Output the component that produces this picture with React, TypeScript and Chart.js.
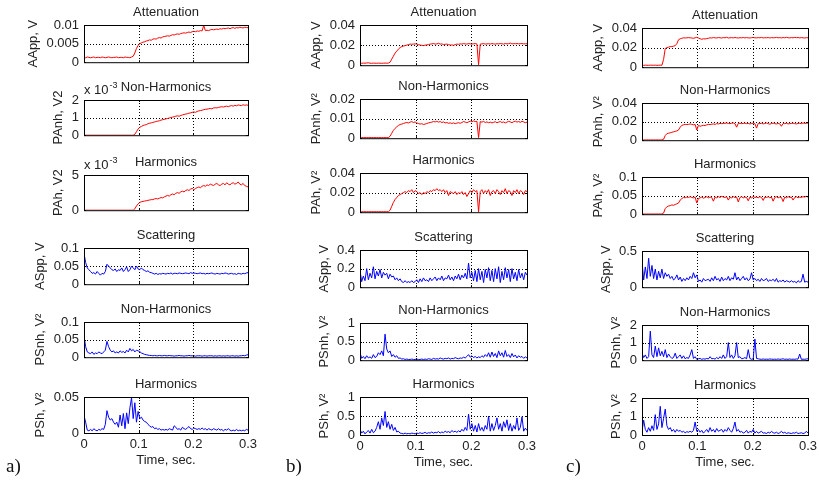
import React, { useEffect, useRef } from "react";
import { Chart, registerables } from "chart.js";

Chart.register(...registerables);

// ---------------- data ----------------
const DT = 0.003; // sampling step of every series, seconds
const X_MAX = 0.3;
const X_TICKS = [0, 0.1, 0.2, 0.3];

// column a
const A_AAPP = [
  0.0013,0.0012,0.0014,0.0013,0.0012,0.0013,0.0014,0.0012,0.0013,0.0013,
  0.0012,0.0014,0.0013,0.0012,0.0013,0.0014,0.0013,0.0012,0.0013,0.0013,
  0.0014,0.0012,0.0013,0.0013,0.0012,0.0014,0.0013,0.0013,0.0012,0.0014,
  0.0016,0.0025,0.0037,0.0045,0.0050,0.0052,0.0054,0.0055,0.0057,0.0058,
  0.0060,0.0059,0.0062,0.0063,0.0062,0.0065,0.0066,0.0065,0.0068,0.0069,
  0.0070,0.0071,0.0070,0.0072,0.0074,0.0073,0.0075,0.0076,0.0075,0.0077,
  0.0078,0.0079,0.0078,0.0080,0.0081,0.0080,0.0082,0.0083,0.0082,0.0084,
  0.0083,0.0085,0.0084,0.0099,0.0085,0.0086,0.0085,0.0087,0.0088,0.0087,
  0.0088,0.0089,0.0088,0.0090,0.0089,0.0091,0.0090,0.0091,0.0092,0.0090,
  0.0092,0.0093,0.0091,0.0093,0.0092,0.0094,0.0093,0.0092,0.0094,0.0093,
  0.0093,
];
const A_PANH = [ // x 10^-3
  0,0,0,0,0,0,0,0,0,0,
  0,0,0,0,0,0,0,0,0,0,
  0,0,0,0,0,0,0,0,0,0,
  0,0.05,0.2,0.35,0.45,0.5,0.55,0.58,0.6,0.65,
  0.68,0.7,0.73,0.75,0.78,0.8,0.82,0.86,0.88,0.9,
  0.93,0.95,0.98,1.0,1.03,1.05,1.08,1.1,1.08,1.12,
  1.15,1.18,1.2,1.22,1.25,1.27,1.3,1.32,1.3,1.35,
  1.38,1.4,1.42,1.45,1.47,1.48,1.5,1.52,1.5,1.55,
  1.56,1.55,1.58,1.6,1.62,1.6,1.63,1.65,1.62,1.66,
  1.68,1.65,1.7,1.67,1.72,1.7,1.68,1.73,1.7,1.72,
  1.7,
];
const A_PAH = [ // x 10^-3
  0,0,0,0,0,0,0,0,0,0,
  0,0,0,0,0,0,0,0,0,0,
  0,0,0,0,0,0,0,0,0,0,
  0,0.2,0.6,0.9,1.1,1.2,1.25,1.3,1.35,1.4,
  1.45,1.5,1.5,1.6,1.65,1.6,1.7,1.8,1.75,1.9,
  2.0,2.1,2.0,2.2,2.3,2.2,2.4,2.5,2.4,2.6,
  2.7,2.6,2.8,2.9,2.8,3.0,3.1,2.9,3.1,3.2,
  3.3,3.2,3.4,3.5,3.4,3.6,3.5,3.7,3.6,3.5,
  3.7,3.8,3.6,3.5,3.7,3.8,3.6,3.9,3.7,3.6,
  3.8,3.9,3.7,3.8,4.0,3.7,3.6,3.8,3.5,3.4,
  3.3,
];
const A_ASPP = [
  0.085,0.06,0.045,0.04,0.035,0.03,0.032,0.028,0.035,0.03,
  0.025,0.03,0.028,0.035,0.055,0.05,0.045,0.04,0.038,0.042,
  0.035,0.04,0.038,0.045,0.035,0.04,0.048,0.035,0.04,0.05,
  0.045,0.04,0.05,0.042,0.04,0.045,0.04,0.038,0.035,0.037,
  0.033,0.032,0.03,0.028,0.03,0.027,0.029,0.028,0.03,0.029,
  0.028,0.03,0.029,0.031,0.028,0.03,0.03,0.029,0.031,0.03,
  0.029,0.03,0.031,0.03,0.029,0.032,0.03,0.031,0.03,0.029,
  0.03,0.031,0.029,0.03,0.028,0.03,0.029,0.03,0.031,0.029,
  0.028,0.03,0.029,0.028,0.03,0.029,0.031,0.03,0.028,0.029,
  0.03,0.028,0.029,0.027,0.03,0.029,0.028,0.03,0.029,0.031,
  0.032,
];
const A_PSNH = [
  0.06,0.03,0.015,0.012,0.01,0.015,0.008,0.012,0.01,0.015,
  0.012,0.01,0.015,0.02,0.045,0.03,0.02,0.015,0.018,0.012,
  0.015,0.012,0.018,0.014,0.016,0.012,0.02,0.015,0.025,0.018,
  0.022,0.015,0.02,0.018,0.016,0.012,0.01,0.008,0.007,0.006,
  0.005,0.005,0.004,0.005,0.004,0.004,0.005,0.004,0.004,0.005,
  0.004,0.004,0.005,0.004,0.004,0.003,0.004,0.004,0.005,0.004,
  0.004,0.003,0.004,0.004,0.005,0.004,0.004,0.004,0.003,0.004,
  0.004,0.004,0.003,0.004,0.004,0.003,0.004,0.004,0.004,0.003,
  0.004,0.003,0.004,0.004,0.003,0.004,0.003,0.004,0.004,0.003,
  0.004,0.004,0.003,0.004,0.003,0.004,0.004,0.005,0.004,0.006,
  0.007,
];
const A_PSH = [
  0.024,0.015,0.004,0.003,0.005,0.003,0.006,0.004,0.003,0.005,
  0.004,0.006,0.005,0.012,0.031,0.022,0.018,0.02,0.015,0.012,
  0.015,0.008,0.025,0.01,0.027,0.006,0.028,0.013,0.035,0.049,
  0.02,0.042,0.015,0.03,0.02,0.022,0.018,0.016,0.015,0.012,
  0.01,0.008,0.009,0.006,0.007,0.005,0.006,0.004,0.005,0.004,
  0.005,0.004,0.006,0.005,0.004,0.01,0.008,0.005,0.006,0.004,
  0.008,0.006,0.005,0.007,0.009,0.006,0.005,0.007,0.006,0.005,
  0.006,0.005,0.007,0.005,0.006,0.004,0.006,0.005,0.004,0.006,
  0.005,0.004,0.006,0.004,0.005,0.003,0.005,0.004,0.006,0.004,
  0.003,0.004,0.003,0.005,0.003,0.004,0.003,0.004,0.003,0.005,
  0.004,
];

// column b
const B_AAPP = [
  0.002,0.0019,0.0021,0.002,0.0022,0.0024,0.002,0.0019,0.0021,0.002,
  0.0019,0.0021,0.002,0.0019,0.002,0.0021,0.002,0.0021,
  0.003,0.006,0.009,0.012,0.014,0.016,0.0175,0.0185,0.019,0.0195,
  0.02,0.0205,0.021,0.0208,0.021,0.0212,
  0.021,0.0205,0.02,0.0198,0.0195,0.02,
  0.0202,0.0205,0.021,0.0212,0.0215,0.021,0.0212,0.0218,0.021,0.0212,
  0.0205,0.0208,0.021,0.0205,0.02,0.0202,0.0198,0.0205,0.021,0.0208,
  0.0212,0.021,0.0215,0.0212,0.021,0.0215,0.0212,0.021,0.0213,0.0215,
  0.0212,0.0005,0.021,0.0212,0.0215,0.021,0.0212,0.0214,0.021,0.0215,
  0.0212,0.021,0.0214,0.0212,0.0215,0.0213,0.021,0.0216,0.0212,0.0214,
  0.022,0.0212,0.0215,0.0213,0.0216,0.0212,0.0214,0.0215,0.0212,0.0213,
  0.0214,
];
const B_PANH = [
  0.0003,0.0003,0.0003,0.0003,0.0003,0.0003,0.0003,0.0003,0.0003,0.0003,
  0.0003,0.0003,0.0003,0.0003,0.0003,0.0003,0.0003,0.0003,
  0.001,0.0025,0.004,0.005,0.0058,0.0065,0.007,0.0072,0.0075,0.0078,
  0.008,0.0078,0.0082,0.0085,0.008,0.0083,
  0.0078,0.0075,0.0072,0.0074,0.007,0.0072,
  0.0075,0.0078,0.008,0.0082,0.0085,0.0083,0.0086,0.0082,0.0085,0.008,
  0.0083,0.0078,0.008,0.0076,0.0078,0.0075,0.0078,0.0074,0.0077,0.0079,
  0.0076,0.008,0.0085,0.0082,0.0079,0.0083,0.0087,0.0084,0.0088,0.0085,
  0.0086,0.0003,0.0085,0.0082,0.0086,0.008,0.0083,0.0079,0.0082,0.0078,
  0.0081,0.0084,0.0079,0.0082,0.0085,0.008,0.0083,0.0078,0.0082,0.0086,
  0.0083,0.0079,0.0084,0.0087,0.0082,0.0085,0.0081,0.0086,0.0083,0.0079,
  0.0082,
];
const B_PAH = [
  0.0005,0.0005,0.0005,0.0005,0.0005,0.0005,0.0005,0.0005,0.0005,0.0005,
  0.0005,0.0005,0.0005,0.0005,0.0005,0.0005,0.0005,0.0005,
  0.002,0.006,0.01,0.013,0.015,0.017,0.018,0.019,0.02,0.021,
  0.02,0.022,0.021,0.023,0.02,0.022,
  0.021,0.019,0.02,0.018,0.02,0.019,
  0.021,0.02,0.022,0.021,0.023,0.022,0.024,0.022,0.023,0.021,
  0.023,0.02,0.022,0.017,0.021,0.02,0.019,0.021,0.018,0.02,
  0.019,0.021,0.018,0.02,0.016,0.019,0.022,0.02,0.023,0.021,
  0.022,0.0005,0.021,0.023,0.019,0.022,0.02,0.023,0.017,0.021,
  0.022,0.019,0.023,0.021,0.018,0.022,0.02,0.024,0.019,0.022,
  0.021,0.017,0.022,0.02,0.023,0.019,0.022,0.021,0.018,0.022,
  0.021,
];
const B_ASPP = [
  0.18,0.06,0.12,0.07,0.2,0.08,0.15,0.1,0.22,0.09,
  0.17,0.12,0.19,0.1,0.16,0.13,0.15,0.09,0.14,0.11,
  0.12,0.08,0.1,0.07,0.09,0.06,0.05,0.07,0.05,0.06,
  0.05,0.07,0.05,0.06,0.08,0.05,0.09,0.06,0.1,0.07,
  0.08,0.06,0.1,0.07,0.09,0.11,0.07,0.1,0.08,0.12,
  0.07,0.1,0.09,0.13,0.08,0.11,0.07,0.12,0.09,0.14,
  0.08,0.13,0.1,0.15,0.09,0.26,0.1,0.16,0.07,0.18,
  0.06,0.2,0.08,0.17,0.05,0.19,0.1,0.21,0.07,0.18,
  0.06,0.2,0.09,0.22,0.05,0.17,0.08,0.21,0.1,0.19,
  0.06,0.2,0.09,0.16,0.07,0.19,0.1,0.15,0.08,0.16,
  0.13,
];
const B_PSNH = [
  0.2,0.05,0.1,0.04,0.12,0.06,0.09,0.05,0.15,0.07,
  0.1,0.2,0.15,0.25,0.12,0.7,0.3,0.2,0.25,0.1,
  0.15,0.08,0.12,0.05,0.06,0.03,0.04,0.02,0.03,0.02,
  0.02,0.03,0.02,0.02,0.03,0.02,0.02,0.03,0.02,0.03,
  0.02,0.04,0.03,0.02,0.05,0.03,0.04,0.03,0.06,0.04,
  0.03,0.05,0.04,0.06,0.03,0.05,0.04,0.07,0.05,0.04,
  0.06,0.05,0.08,0.06,0.1,0.15,0.08,0.12,0.07,0.1,
  0.06,0.09,0.07,0.12,0.08,0.15,0.1,0.2,0.08,0.22,
  0.1,0.18,0.07,0.25,0.12,0.2,0.08,0.26,0.1,0.15,
  0.07,0.18,0.09,0.14,0.06,0.12,0.08,0.1,0.05,0.09,
  0.06,
];
const B_PSH = [
  0.15,0.05,0.1,0.03,0.08,0.12,0.05,0.15,0.06,0.1,
  0.2,0.35,0.15,0.45,0.25,0.62,0.2,0.35,0.15,0.28,
  0.12,0.2,0.08,0.1,0.05,0.04,0.03,0.05,0.03,0.04,
  0.03,0.05,0.04,0.03,0.05,0.04,0.06,0.04,0.05,0.07,
  0.04,0.06,0.05,0.08,0.05,0.07,0.06,0.09,0.05,0.08,
  0.06,0.1,0.07,0.09,0.06,0.12,0.08,0.1,0.07,0.11,
  0.08,0.15,0.1,0.2,0.12,0.55,0.15,0.3,0.1,0.25,
  0.08,0.3,0.12,0.2,0.1,0.25,0.15,0.5,0.1,0.3,
  0.12,0.25,0.45,0.15,0.3,0.1,0.35,0.2,0.4,0.12,
  0.3,0.1,0.25,0.15,0.45,0.12,0.2,0.48,0.1,0.18,
  0.12,
];

// column c
const C_AAPP = [
  0.002,0.0019,0.0021,0.002,0.0019,0.0021,0.002,0.002,0.0021,0.0019,
  0.002,0.0021,0.002,
  0.008,0.019,0.02,0.0205,0.021,0.021,0.0215,0.022,0.024,0.028,0.029,0.0295,0.03,0.0298,0.03,0.0302,0.03,
  0.0298,0.0295,0.03,0.0305,0.0298,0.029,0.0285,0.029,0.0288,0.0292,
  0.0295,0.03,0.0298,0.0302,0.03,0.0298,0.0303,0.03,0.0298,0.0302,
  0.03,0.0305,0.0298,0.03,0.0302,0.0299,0.0303,0.03,0.0298,0.0301,
  0.03,0.0303,0.0299,0.0302,0.03,0.0298,0.0301,0.0303,0.03,0.0299,
  0.0302,0.03,0.0304,0.0299,0.0301,0.03,0.0303,0.0298,0.0302,0.03,
  0.0301,0.0304,0.03,0.0302,0.0299,0.0303,0.03,0.0305,0.0301,0.0299,
  0.0302,0.03,0.0304,0.0301,0.0303,0.0299,0.0302,0.03,0.0298,0.0301,
  0.03,
];
const C_PANH = [
  0.0003,0.0003,0.0003,0.0003,0.0003,0.0003,0.0003,0.0003,0.0003,0.0003,
  0.0003,0.0003,0.0003,
  0.001,0.005,0.007,0.0075,0.008,0.0085,0.009,0.0095,0.01,0.011,0.014,0.016,0.0165,0.017,0.0168,0.017,0.0175,
  0.017,0.0165,0.017,0.011,0.016,0.015,0.0155,0.016,0.0158,0.0165,
  0.017,0.0168,0.0172,0.0175,0.017,0.0178,0.0175,0.018,0.0178,0.018,
  0.0182,0.0185,0.018,0.0178,0.0182,0.0185,0.0178,0.014,0.018,0.0182,
  0.0178,0.018,0.0183,0.0178,0.018,0.0175,0.018,0.0182,0.0178,0.013,
  0.018,0.0178,0.0182,0.0175,0.018,0.0185,0.0178,0.0172,0.018,0.0183,
  0.0178,0.0175,0.018,0.0176,0.015,0.018,0.0178,0.0182,0.0175,0.0178,
  0.018,0.0183,0.0178,0.0175,0.018,0.0182,0.0178,0.0185,0.018,0.0182,
  0.0185,
];
const C_PAH = [
  0.0005,0.0005,0.0005,0.0005,0.0005,0.0005,0.0005,0.0005,0.0005,0.0005,
  0.0005,0.0005,0.0005,
  0.003,0.015,0.02,0.022,0.023,0.025,0.024,0.026,0.028,0.03,0.038,0.042,0.045,0.044,0.046,0.045,0.047,
  0.045,0.044,0.046,0.03,0.042,0.044,0.046,0.043,0.045,0.047,
  0.044,0.046,0.045,0.035,0.046,0.044,0.047,0.045,0.048,0.046,
  0.045,0.047,0.038,0.046,0.044,0.047,0.045,0.046,0.033,0.045,
  0.047,0.044,0.046,0.045,0.036,0.046,0.044,0.047,0.045,0.046,
  0.044,0.047,0.045,0.037,0.046,0.045,0.047,0.044,0.046,0.035,
  0.045,0.047,0.044,0.046,0.045,0.034,0.046,0.044,0.047,0.045,
  0.046,0.038,0.045,0.047,0.044,0.046,0.045,0.047,0.046,0.048,
  0.046,
];
const C_ASPP = [
  0.35,0.1,0.28,0.12,0.4,0.15,0.3,0.12,0.25,0.1,
  0.22,0.13,0.25,0.12,0.2,0.15,0.18,0.12,0.15,0.1,
  0.12,0.17,0.1,0.14,0.08,0.12,0.09,0.13,0.1,0.15,
  0.12,0.2,0.13,0.17,0.08,0.1,0.07,0.12,0.09,0.1,
  0.11,0.08,0.13,0.09,0.15,0.1,0.12,0.08,0.14,0.09,
  0.12,0.1,0.15,0.09,0.13,0.11,0.2,0.1,0.14,0.09,
  0.12,0.15,0.1,0.13,0.09,0.11,0.2,0.1,0.12,0.09,
  0.11,0.08,0.12,0.09,0.1,0.12,0.08,0.1,0.09,0.11,
  0.08,0.12,0.07,0.09,0.08,0.1,0.07,0.09,0.08,0.07,
  0.09,0.07,0.08,0.06,0.09,0.07,0.08,0.18,0.07,0.08,
  0.07,
];
const C_PSNH = [
  0.4,0.15,0.3,0.1,0.2,1.65,0.3,0.15,0.8,0.2,
  0.7,0.25,0.5,0.2,0.6,0.15,0.35,0.2,0.1,0.15,
  0.4,0.1,0.2,0.3,0.1,0.25,0.08,0.15,0.1,0.3,
  0.6,0.1,0.2,0.05,0.08,0.1,0.05,0.08,0.06,0.1,
  0.07,0.2,0.08,0.1,0.06,0.15,0.08,0.2,0.1,0.3,
  0.1,0.2,1.0,0.15,0.3,0.1,0.25,1.0,0.15,0.2,
  0.08,0.1,0.15,0.08,0.6,0.1,0.05,0.08,1.2,0.1,
  0.08,0.06,0.05,0.07,0.05,0.06,0.05,0.07,0.06,0.05,
  0.06,0.05,0.07,0.05,0.06,0.08,0.05,0.06,0.05,0.07,
  0.05,0.06,0.05,0.07,0.06,0.35,0.05,0.06,0.05,0.07,
  0.08,
];
const C_PSH = [
  0.2,0.8,0.3,0.15,0.4,0.2,0.5,0.25,1.1,0.3,
  0.6,1.55,0.4,0.9,1.4,0.5,0.3,0.4,0.2,0.3,
  0.15,0.3,0.2,0.25,0.15,0.2,0.12,0.18,0.15,0.2,
  0.15,0.25,0.7,0.2,0.3,0.15,0.25,0.1,0.2,0.3,
  0.15,0.4,0.2,0.3,0.15,0.35,0.2,0.25,0.3,0.15,
  0.3,0.2,0.4,0.25,0.15,0.35,0.7,0.2,0.3,0.15,
  0.2,0.1,0.15,0.25,0.1,0.2,0.15,0.3,0.1,0.2,
  0.1,0.15,0.2,0.1,0.12,0.08,0.15,0.1,0.2,0.12,
  0.1,0.15,0.08,0.12,0.2,0.1,0.15,0.08,0.12,0.1,
  0.08,0.12,0.1,0.15,0.08,0.1,0.12,0.08,0.1,0.2,
  0.1,
];

const TITLES = ["Attenuation", "Non-Harmonics", "Harmonics", "Scattering", "Non-Harmonics", "Harmonics"];
const YLABELS = [
  ["AApp, V", "PAnh, V2", "PAh, V2", "ASpp, V", "PSnh, V\u00b2", "PSh, V\u00b2"],
  ["AApp, V", "PAnh, V\u00b2", "PAh, V\u00b2", "ASpp, V", "PSnh, V\u00b2", "PSh, V\u00b2"],
  ["AApp, V", "PAnh, V\u00b2", "PAh, V\u00b2", "ASpp, V", "PSnh, V\u00b2", "PSh, V\u00b2"],
];
const Y_TICKS = [
  [[0, 0.005, 0.01], [0, 1, 2], [0, 5], [0, 0.05, 0.1], [0, 0.05, 0.1], [0, 0.05]],
  [[0, 0.02, 0.04], [0, 0.01, 0.02], [0, 0.02, 0.04], [0, 0.2, 0.4], [0, 0.5, 1], [0, 0.5, 1]],
  [[0, 0.02, 0.04], [0, 0.02, 0.04], [0, 0.05, 0.1], [0, 0.5], [0, 1, 2], [0, 1, 2]],
];
const EXPONENTS = [
  ["", "-3", "-3", "", "", ""],
  ["", "", "", "", "", ""],
  ["", "", "", "", "", ""],
];
const SERIES = [
  [A_AAPP, A_PANH, A_PAH, A_ASPP, A_PSNH, A_PSH],
  [B_AAPP, B_PANH, B_PAH, B_ASPP, B_PSNH, B_PSH],
  [C_AAPP, C_PANH, C_PAH, C_ASPP, C_PSNH, C_PSH],
];
const PANEL_LABELS = ["a)", "b)", "c)"];
const X_TITLE = "Time, sec.";

// ---------------- layout / style ----------------
const COL_LEFT = [84, 360, 642];
const COL_RIGHT = [248, 527, 808];
const ROW_TOP = [
  [25, 100, 175, 248, 322, 397],
  [25, 99, 173, 250, 323, 397],
  [28, 103, 177, 251, 325, 398],
];
const ROW_BOTTOM = [
  [63, 136, 211, 285, 358, 433],
  [66, 139, 213, 288, 361, 435],
  [68, 141, 215, 288, 361, 435],
];
const PANEL_LABEL_POS = [[6, 455], [286, 455], [566, 455]];

const PAD_L = 84;
const PAD_T = 28;
const PAD_R = 18;
const PAD_B = 12;
const BOTTOM_EXTRA = 48;
const FAMILY = '"Liberation Sans", Arial, Helvetica, sans-serif';
const FONT = `13px ${FAMILY}`;
const TEXT = "#222";
const RED = "#ff0000";
const BLUE = "#0000ff";

function Panel({ col, row }: { col: number; row: number }) {
  const ref = useRef<HTMLCanvasElement | null>(null);
  const left = COL_LEFT[col];
  const right = COL_RIGHT[col];
  const top = ROW_TOP[col][row];
  const bottom = ROW_BOTTOM[col][row];
  const isBottom = row === 5;
  const w = right - left;
  const h = bottom - top;
  const cw = w + PAD_L + PAD_R;
  const ch = h + PAD_T + (isBottom ? BOTTOM_EXTRA : PAD_B);

  useEffect(() => {
    const values = SERIES[col][row];
    const yTicks = Y_TICKS[col][row];
    const yMax = yTicks[yTicks.length - 1];
    const title = TITLES[row];
    const ylabel = YLABELS[col][row];
    const exp = EXPONENTS[col][row];
    const color = row < 3 ? RED : BLUE;
    const pts = values.map((y, i) => ({ x: +(i * DT).toFixed(4), y }));

    const deco = {
      id: "deco",
      beforeDatasetsDraw(chart: any) {
        const { ctx, chartArea: a, scales } = chart;
        ctx.save();
        ctx.strokeStyle = "#000";
        ctx.lineWidth = 1;
        ctx.setLineDash([1, 2]);
        ctx.beginPath();
        for (const v of X_TICKS) {
          if (v <= 0 || v >= X_MAX) continue;
          const px = Math.round(scales.x.getPixelForValue(v)) + 0.5;
          ctx.moveTo(px, a.top);
          ctx.lineTo(px, a.bottom);
        }
        for (const v of yTicks) {
          if (v <= 0 || v >= yMax) continue;
          const py = Math.round(scales.y.getPixelForValue(v)) + 0.5;
          ctx.moveTo(a.left, py);
          ctx.lineTo(a.right, py);
        }
        ctx.stroke();
        ctx.restore();
      },
      afterDraw(chart: any) {
        const { ctx, chartArea: a, scales } = chart;
        ctx.save();
        ctx.strokeStyle = "#000";
        ctx.lineWidth = 1;
        ctx.setLineDash([]);
        ctx.strokeRect(a.left + 0.5, a.top + 0.5, a.right - a.left, a.bottom - a.top);
        // inner tick marks
        ctx.beginPath();
        for (const v of X_TICKS) {
          const px = Math.round(scales.x.getPixelForValue(v)) + 0.5;
          ctx.moveTo(px, a.bottom);
          ctx.lineTo(px, a.bottom - 2);
          ctx.moveTo(px, a.top);
          ctx.lineTo(px, a.top + 2);
        }
        for (const v of yTicks) {
          const py = Math.round(scales.y.getPixelForValue(v)) + 0.5;
          ctx.moveTo(a.left, py);
          ctx.lineTo(a.left + 2, py);
          ctx.moveTo(a.right, py);
          ctx.lineTo(a.right - 2, py);
        }
        ctx.stroke();

        ctx.fillStyle = TEXT;
        ctx.font = FONT;
        ctx.textAlign = "center";
        ctx.textBaseline = "middle";
        ctx.fillText(title, (a.left + a.right) / 2, a.top - 13);

        let maxW = 0;
        for (const v of yTicks) maxW = Math.max(maxW, ctx.measureText(String(v)).width);
        ctx.save();
        ctx.translate(a.left - 5 - maxW - 13, (a.top + a.bottom) / 2);
        ctx.rotate(-Math.PI / 2);
        ctx.fillText(ylabel, 0, 0);
        ctx.restore();

        if (exp) {
          ctx.textAlign = "left";
          ctx.textBaseline = "alphabetic";
          ctx.fillText("x 10", a.left, a.top - 6);
          const wx = ctx.measureText("x 10").width;
          ctx.font = `9px ${FAMILY}`;
          ctx.fillText(exp, a.left + wx + 1, a.top - 12);
          ctx.font = FONT;
        }
        if (isBottom) {
          ctx.textAlign = "center";
          ctx.textBaseline = "middle";
          ctx.fillText(X_TITLE, (a.left + a.right) / 2, a.bottom + 27);
        }
        ctx.restore();
      },
    };

    const chart = new Chart(ref.current as HTMLCanvasElement, {
      type: "line",
      data: {
        datasets: [
          {
            data: pts,
            borderColor: color,
            borderWidth: 1,
            pointRadius: 0,
            fill: false,
            tension: 0,
          },
        ],
      },
      options: {
        animation: false,
        responsive: false,
        maintainAspectRatio: false,
        devicePixelRatio: 1,
        events: [],
        layout: { padding: { left: 0, top: PAD_T, right: PAD_R, bottom: isBottom ? 8 : PAD_B } },
        plugins: { legend: { display: false }, tooltip: { enabled: false }, title: { display: false } },
        scales: {
          x: {
            type: "linear",
            min: 0,
            max: X_MAX,
            grid: { display: false, drawTicks: false },
            border: { display: false },
            afterBuildTicks: (s: any) => {
              s.ticks = X_TICKS.map((v) => ({ value: v }));
            },
            afterFit: (s: any) => {
              s.height = isBottom ? BOTTOM_EXTRA - 8 : 0;
            },
            ticks: {
              display: isBottom,
              autoSkip: false,
              maxRotation: 0,
              padding: 4,
              color: TEXT,
              font: { family: FAMILY, size: 13 },
              callback: (v: any) => String(v),
            },
          },
          y: {
            type: "linear",
            min: 0,
            max: yMax,
            grid: { display: false, drawTicks: false },
            border: { display: false },
            afterBuildTicks: (s: any) => {
              s.ticks = yTicks.map((v) => ({ value: v }));
            },
            afterFit: (s: any) => {
              s.width = PAD_L;
            },
            ticks: {
              autoSkip: false,
              padding: 5,
              color: TEXT,
              font: { family: FAMILY, size: 13 },
              callback: (v: any) => String(v),
            },
          },
        },
      } as any,
      plugins: [deco as any],
    });
    return () => chart.destroy();
  }, [col, row]);

  return (
    <canvas
      ref={ref}
      width={cw}
      height={ch}
      style={{ position: "absolute", left: left - PAD_L, top: top - PAD_T, width: cw, height: ch }}
    />
  );
}

export default function App() {
  const panels: React.ReactNode[] = [];
  for (let c = 0; c < 3; c++) {
    for (let r = 0; r < 6; r++) {
      panels.push(<Panel key={`${c}-${r}`} col={c} row={r} />);
    }
  }
  return (
    <div style={{ position: "absolute", left: 0, top: 0, width: 819, height: 485, background: "#fff", overflow: "hidden" }}>
      {panels}
      {PANEL_LABELS.map((t, i) => (
        <div
          key={t}
          style={{
            position: "absolute",
            left: PANEL_LABEL_POS[i][0],
            top: PANEL_LABEL_POS[i][1],
            font: '19px "Liberation Serif", "Times New Roman", serif',
            color: "#111",
            lineHeight: "22px",
          }}
        >
          {t}
        </div>
      ))}
    </div>
  );
}
